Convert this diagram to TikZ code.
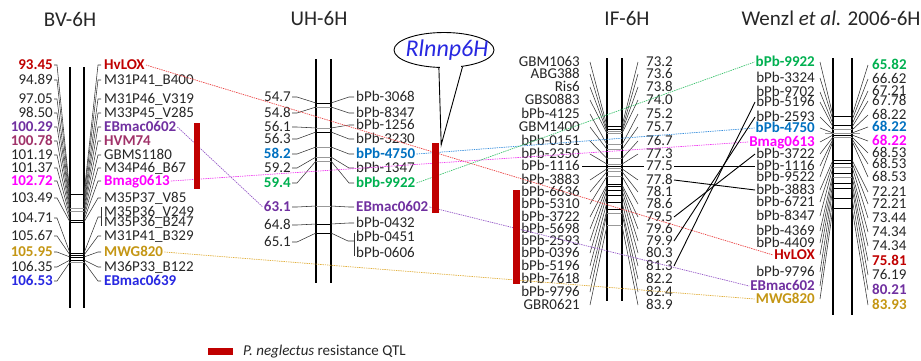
\documentclass[tikz,border=0pt]{standalone}
\usepackage{fontspec}
\setmainfont{Carlito}
\usetikzlibrary{calc,shapes.geometric}
\definecolor{ctxt}{RGB}{38,38,38}
\definecolor{cred}{RGB}{192,0,0}
\definecolor{cpur}{RGB}{112,48,160}
\definecolor{cmar}{RGB}{160,50,105}
\definecolor{cmag}{RGB}{255,0,255}
\definecolor{cgold}{RGB}{196,150,20}
\definecolor{cblu}{RGB}{40,40,225}
\definecolor{csky}{RGB}{0,112,192}
\definecolor{cgrn}{RGB}{0,176,80}
\definecolor{cqtl}{RGB}{192,0,0}
\definecolor{kred}{RGB}{235,70,70}
\definecolor{kpur}{RGB}{150,90,200}
\definecolor{kmag}{RGB}{240,60,240}
\definecolor{kgold}{RGB}{225,175,60}
\definecolor{ksky}{RGB}{50,140,220}
\definecolor{kgrn}{RGB}{60,195,110}
\newcommand\lblfont{\fontsize{15}{15}\selectfont}
\begin{document}
\begin{tikzpicture}[x=1pt,y=-1pt,
  lbl/.style={font=\lblfont,text=ctxt,inner sep=0pt,text height=9.6pt,text depth=0pt},
  lp/.style={},
  lr/.style={font=\lblfont\bfseries,text=cred},
  lpu/.style={font=\lblfont\bfseries,text=cpur},
  lma/.style={font=\lblfont\bfseries,text=cmar},
  lmg/.style={font=\lblfont\bfseries,text=cmag},
  lgo/.style={font=\lblfont\bfseries,text=cgold},
  lbu/.style={font=\lblfont\bfseries,text=cblu},
  lsk/.style={font=\lblfont\bfseries,text=csky},
  lgr/.style={font=\lblfont\bfseries,text=cgrn},
  ttl/.style={font=\fontsize{21}{21}\selectfont,text=ctxt,inner sep=0pt},
  chrom/.style={line width=1.2pt,draw=black},
  lead/.style={line width=0.55pt,draw=black!80},
  tk/.style={line width=0.8pt,draw=black},
  tg/.style={line width=0.8pt,draw=black!40},
  conn/.style={line width=0.7pt,dash pattern=on 1.4pt off 0.9pt},
  link/.style={line width=0.9pt,draw=black},
  qtl/.style={fill=cqtl,draw=none,inner sep=0pt,minimum width=7pt},
]
\useasboundingbox (0,0) rectangle (921,360);

% ---------- titles ----------
\node[ttl] (tbv) at (70,19) {BV-6H};
\node[ttl] (tuh) at (319,18) {UH-6H};
\node[ttl] (tif) at (627,18) {IF-6H};
\node[ttl] (twz) at (831,18) {Wenzl \textit{et al.} 2006-6H};

% ---------- BV-6H ----------
\draw[chrom] (70,67) -- (70,308);
\draw[chrom] (84,67) -- (84,308);
\foreach \b/\s in {194/tk,208/tg,211/tg,220/tk,222/tk,253/tk,255/tk,257/tk,260/tk,262/tg}
  \draw[\s] (70,\b) -- (84,\b);
\foreach \y/\b/\t/\s [count=\i] in {65/194/93.45/lr, 80/198/94.89/lp, 99/202/97.05/lp,
  113/205/98.50/lp, 127/208/100.29/lpu, 141/211/100.78/lma, 155/214/101.19/lp,
  168/217/101.37/lp, 181/220/102.72/lmg, 198/222/103.49/lp, 218/253/104.71/lp,
  236/255/105.67/lp, 252/257/105.95/lgo, 267/260/106.35/lp, 281/262/106.53/lbu}{
  \node[lbl,\s,anchor=east] (bvL\i) at (53,\y) {\t};
  \coordinate (bvP\i) at (70,\b);
  \draw[lead] ([xshift=1pt]bvL\i.east) -- ++(3,0) -- (bvP\i);
}
\foreach \y/\b/\t/\s [count=\i] in {65/194/HvLOX/lr, 80/198/M31P41\_B400/lp,
  99/202/M31P46\_V319/lp, 113/205/M33P45\_V285/lp, 127/208/EBmac0602/lpu,
  141/211/HVM74/lma, 155/214/GBMS1180/lp, 168/217/M34P46\_B67/lp,
  181/220/Bmag0613/lmg, 198/222/M35P37\_V85/lp, 212/0/M35P36\_V249/lp,
  222/0/M35P36\_B247/lp, 236/255/M31P41\_B329/lp, 252/257/MWG820/lgo,
  267/260/M36P33\_B122/lp, 281/262/EBmac0639/lbu}{
  \node[lbl,\s,anchor=west] (bvR\i) at (104,\y) {\t};
  \ifnum\b>0
    \coordinate (bvQ\i) at (84,\b);
    \draw[lead] ([xshift=-3pt]bvR\i.west) -- ++(-3,0) -- (bvQ\i);
  \fi
}
\coordinate (bvQbr) at (84,253);
\draw[lead] ($(bvR11.west)+(-3,-5)$) -- ($(bvR12.west)+(-3,4)$);
\draw[lead] (bvQbr) -- ($(bvR11.west)!0.5!(bvR12.west)+(-6,0)$) -- ++(3,0);

% ---------- UH-6H ----------
\draw[chrom] (316,59) -- (316,283);
\draw[chrom] (331,59) -- (331,283);
\foreach \b/\s in {103/tk,107/tg,128/tg,132/tk,147/tg,157/tg,161/tg,206/tg,224/tk,233/tk}
  \draw[\s] (316,\b) -- (331,\b);
\foreach \y/\b/\t/\s [count=\i] in {97/103/54.7/lp, 113/107/54.8/lp, 127/128/56.1/lp,
  139/132/56.3/lp, 154/147/58.2/lsk, 168/157/59.2/lp, 183/161/59.4/lgr,
  207/206/63.1/lpu, 225/224/64.8/lp, 242/233/65.1/lp}{
  \node[lbl,\s,anchor=east] (uhL\i) at (291,\y) {\t};
  \coordinate (uhP\i) at (316,\b);
  \draw[lead] ([xshift=1pt]uhL\i.east) -- ++(5,0) -- (uhP\i);
}
\foreach \y/\b/\t/\s [count=\i] in {97/103/bPb-3068/lp, 113/107/bPb-8347/lp,
  125/128/bPb-1256/lp, 139/132/bPb-3230/lp, 154/147/bPb-4750/lsk,
  168/157/bPb-1347/lp, 183/161/bPb-9922/lgr, 207/206/EBmac0602/lpu,
  223/224/bPb-0432/lp, 237/0/bPb-0451/lp, 253/0/bPb-0606/lp}{
  \node[lbl,\s,anchor=west] (uhR\i) at (356,\y) {\t};
  \ifnum\b>0
    \coordinate (uhQ\i) at (331,\b);
    \draw[lead] ([xshift=-2pt]uhR\i.west) -- ++(-5,0) -- (uhQ\i);
  \fi
}
\coordinate (uhQbr) at (331,233);
\draw[lead] ($(uhR10.west)+(-1.5,-4)$) -- ($(uhR11.west)+(-1.5,3)$);
\draw[lead] (uhQbr) -- ($(uhR10.west)+(-8,4)$) -- ++(6.5,0);

% ---------- IF-6H ----------
\draw[chrom] (607,58) -- (607,301);
\draw[chrom] (622,58) -- (622,301);
\foreach \y/\b/\n/\c/\s [count=\i] in {62/126/GBM1063/73.2/tk, 74/129.7/ABG388/73.6/tk,
  87/131.6/Ris6/73.8/tg, 100/133.4/GBS0883/74.0/tg, 114/144.6/bPb-4125/75.2/tg,
  127/149.3/GBM1400/75.7/tg, 141/158.6/bPb-0151/76.7/tg, 154/164.1/bPb-2350/77.3/tg,
  166/166/bPb-1116/77.5/tk, 180/168.8/bPb-3883/77.8/tg, 192/171.6/bPb-6636/78.1/tg,
  204/176.2/bPb-5310/78.6/tg, 217/184.6/bPb-3722/79.5/tk, 229/186.5/bPb-5698/79.6/tk,
  241/190.3/bPb-2593/79.9/tk, 253/195/bPb-0396/80.3/tk, 266/202/bPb-5196/81.3/tk,
  279/209.7/bPb-7618/82.2/tk, 292/213/bPb-9796/82.4/tg, 305/225.5/GBR0621/83.9/tg}{
  \node[lbl,anchor=east] (ifL\i) at (580,\y) {\n};
  \node[lbl,anchor=west] (ifR\i) at (646,\y) {\c};
  \coordinate (ifPl\i) at (607,\b);
  \coordinate (ifPr\i) at (622,\b);
  \draw[\s] (ifPl\i) -- (ifPr\i);
  \ifnum\i=9
    \draw[tk] ([xshift=2pt]ifL\i.east) -- ([xshift=-2pt]ifR\i.west);
  \else
    \draw[lead] ([xshift=10pt]ifL\i.east) -- (ifPl\i);
    \draw[lead] (ifPr\i) -- ([xshift=-8pt]ifR\i.west);
  \fi
}

% ---------- Wenzl ----------
\draw[chrom] (833,58) -- (833,315);
\draw[chrom] (852,58) -- (852,315);
\foreach \b/\s in {116/tk,125/tk,129/tg,135/tk,137/tg,160/tk,163/tk,167/tg,173/tk,177/tg,183/tk,188/tk,198/tk,208/tk}
  \draw[\s] (833,\b) -- (852,\b);
\coordinate (wzT1) at (825,133);
\coordinate (wzT2) at (860,133);
\draw[tg] (wzT1) -- (wzT2);
\foreach \yl/\yr/\b/\n/\c/\s [count=\i] in {62/65/116/bPb-9922/65.82/lgr,
  78/79/120/bPb-3324/66.62/lp, 92/91/124/bPb-9702/67.21/lp, 102/101/127/bPb-5196/67.78/lp,
  117/115/130/bPb-2593/68.22/lp, 128/127/133/bPb-4750/68.22/lsk,
  142/141/135/Bmag0613/68.22/lmg, 154/153/137/bPb-3722/68.53/lp,
  166/164/139/bPb-1116/68.53/lp, 177/177/141/bPb-9522/68.53/lp,
  190/192/160/bPb-3883/72.21/lp, 202/204/163/bPb-6721/72.21/lp,
  216/218/167/bPb-8347/73.44/lp, 231/232/173/bPb-4369/74.34/lp,
  243/246/177/bPb-4409/74.34/lp, 255/261/183/HvLOX/75.81/lr,
  272/275/188/bPb-9796/76.19/lp, 286/290/198/EBmac602/80.21/lpu,
  299/305/208/MWG820/83.93/lgo}{
  \node[lbl,\s,anchor=east] (wzL\i) at (815,\yl) {\n};
  \node[lbl,\s,anchor=west] (wzR\i) at (872,\yr) {\c};
  \coordinate (wzPl\i) at (833,\b);
  \coordinate (wzPr\i) at (852,\b);
  \draw[lead] ([xshift=5pt]wzL\i.east) -- (wzPl\i);
  \draw[lead] (wzPr\i) -- ([xshift=-4pt]wzR\i.west);
}

% ---------- cross-map connectors ----------
\draw[conn,draw=kred] ([xshift=1pt]bvR1.east) -- ([xshift=-1pt]wzL16.west);
\draw[conn,draw=kmag] ([xshift=1pt]bvR9.east) -- ([xshift=-1pt]wzL7.west);
\draw[conn,draw=kpur] ([xshift=1pt]bvR5.east) -- ([xshift=-1pt]uhL8.west);
\draw[conn,draw=kpur] ([xshift=1pt]uhR8.east) -- ([xshift=-1pt]wzL18.west);
\draw[conn,draw=kgold] ([xshift=1pt]bvR14.east) -- ([xshift=-1pt]wzL19.west);
\draw[conn,draw=ksky] ([xshift=1pt]uhR5.east) -- ([xshift=-1pt]wzL6.west);
\draw[conn,draw=kgrn] ([xshift=1pt]uhR7.east) -- ([xshift=-1pt]wzL1.west);
\draw[link] ([xshift=1pt]ifR9.east) -- ([xshift=-1pt]wzL9.west);
\draw[link] ([xshift=1pt]ifR10.east) -- ([xshift=-1pt]wzL11.west);
\draw[link] ([xshift=1pt]ifR13.east) -- ([xshift=-1pt]wzL8.west);
\draw[link] ([xshift=1pt]ifR15.east) -- ([xshift=-1pt]wzL5.west);
\draw[link] ([xshift=1pt]ifR17.east) -- ([xshift=-1pt]wzL4.west);

% ---------- QTL bars ----------
\node[qtl,minimum width=6.5pt,minimum height=66pt] (bvqtl) at (197,156) {};
\node[qtl,minimum height=70pt] (uhqtl) at (435.5,178) {};
\node[qtl,minimum height=94pt] (ifqtl) at (516.5,237) {};

% ---------- callout ----------
\node[ellipse,draw,line width=0.9pt,fill=white,minimum width=100pt,minimum height=35pt,inner sep=0pt] (rl) at (444,50) {};
\node[font=\fontsize{24}{24}\selectfont\itshape,text=cblu,inner sep=0pt,text height=15pt,text depth=0pt] (rltxt) at (447,49) {Rlnnp6H};
\coordinate (tip) at ($(uhqtl.north east)+(2,2)$);
\fill[white] ($(rl.-106)+(1.2,-1.5)$) rectangle ($(rl.-42)+(-1.5,3)$);
\draw[line width=0.9pt] (rl.-106) -- (tip) -- (rl.-42);

% ---------- legend ----------
\node[qtl,minimum width=25pt,minimum height=7pt] (legbox) at (220.5,351.5) {};
\node[lbl,anchor=west] (legtxt) at (243,351) {\textit{P. neglectus} resistance QTL};
\end{tikzpicture}
\end{document}
